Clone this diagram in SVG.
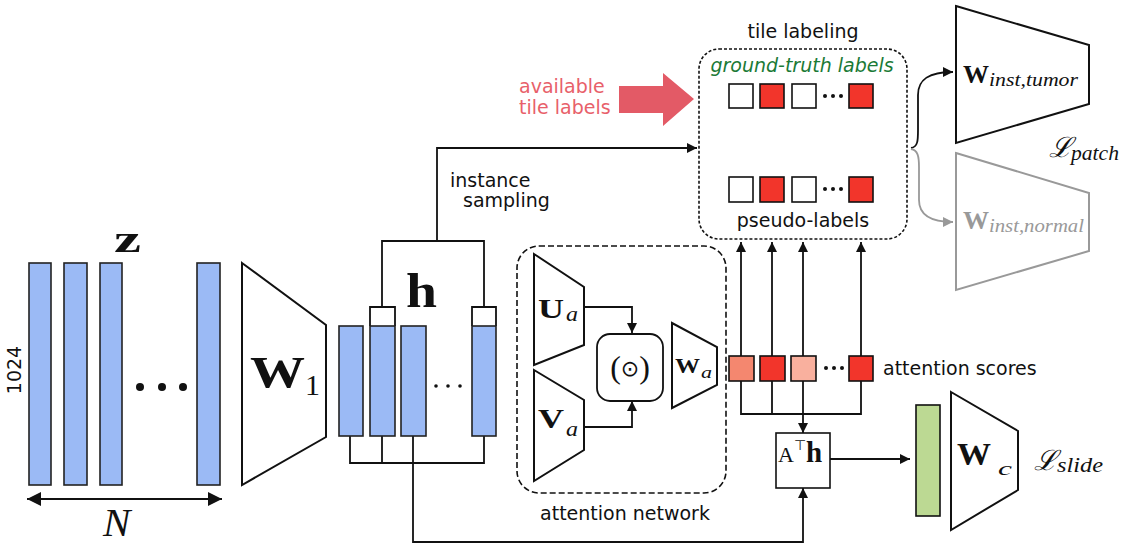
<svg xmlns="http://www.w3.org/2000/svg" width="1125" height="544" viewBox="0 0 1125 544">
<defs>
<style>
.sans{font-family:"DejaVu Sans","Liberation Sans",sans-serif;font-size:19px;fill:#111}
.ser{font-family:"Liberation Serif","DejaVu Serif",serif;fill:#111}
.bold{font-weight:bold}
.it{font-style:italic}
.bar{fill:#9bbaf5;stroke:#222;stroke-width:1.6}
.trap{fill:#fff;stroke:#111;stroke-width:2}
.ln{fill:none;stroke:#111;stroke-width:1.8}
.sq{stroke:#111;stroke-width:1.6}
.red{fill:#f2352b}
.wh{fill:#fff}
</style>
<marker id="ah" viewBox="0 0 10 10" refX="10" refY="5" markerWidth="10" markerHeight="10" markerUnits="userSpaceOnUse" orient="auto">
<path d="M0,0 L10,5 L0,10 z" fill="#111"/>
</marker>
<marker id="ahg" viewBox="0 0 10 10" refX="10" refY="5" markerWidth="10" markerHeight="10" markerUnits="userSpaceOnUse" orient="auto">
<path d="M0,0 L10,5 L0,10 z" fill="#999"/>
</marker>
<marker id="ahs" viewBox="0 0 10 10" refX="10" refY="5" markerWidth="16" markerHeight="14" markerUnits="userSpaceOnUse" orient="auto-start-reverse">
<path d="M0,0 L10,5 L0,10 z" fill="#111"/>
</marker>
</defs>
<rect width="1125" height="544" fill="#fff"/>

<g id="connectors">
<line class="ln" x1="27" y1="499" x2="222" y2="499" marker-start="url(#ahs)" marker-end="url(#ahs)" style="stroke-width:2"/>
<path class="ln" d="M370,326 V307 H395 V326 M382,307 V241 H484 V307 M472,326 V307 H496 V326"/>
<path class="ln" d="M437,241 V148 H697" marker-end="url(#ah)"/>
<path class="ln" d="M350,436 V463 H484 V436 M382,436 V463 M413,436 V542 H803 V488" marker-end="url(#ah)"/>
<path class="ln" d="M584,307 H632 V333" marker-end="url(#ah)"/>
<path class="ln" d="M584,427 H632 V401" marker-end="url(#ah)"/>
<line class="ln" x1="741" y1="356" x2="741" y2="242" marker-end="url(#ah)"/>
<line class="ln" x1="772" y1="356" x2="772" y2="242" marker-end="url(#ah)"/>
<line class="ln" x1="803" y1="356" x2="803" y2="242" marker-end="url(#ah)"/>
<line class="ln" x1="861" y1="356" x2="861" y2="242" marker-end="url(#ah)"/>
<path class="ln" d="M741,381 V414 H861 V381 M772,381 V414"/>
<line class="ln" x1="803" y1="381" x2="803" y2="433" marker-end="url(#ah)"/>
<line class="ln" x1="830" y1="459" x2="910" y2="459" marker-end="url(#ah)"/>
<path class="ln" d="M911,148 C918,147 918,140 918,130 L918,95 C918,80 928,72 953,72" marker-end="url(#ah)"/>
<path d="M911,149 C918,150 919,157 919,167 L919,200 C919,214 929,222 953,222" fill="none" stroke="#999" stroke-width="1.8" marker-end="url(#ahg)"/>
</g>

<g id="z">
<rect class="bar" x="29" y="263" width="22" height="222"/>
<rect class="bar" x="64" y="263" width="23" height="222"/>
<rect class="bar" x="100" y="263" width="22" height="222"/>
<rect class="bar" x="197" y="263" width="23" height="222"/>
<circle cx="140" cy="387" r="4" fill="#111"/>
<circle cx="162" cy="387" r="4" fill="#111"/>
<circle cx="183" cy="387" r="4" fill="#111"/>
<text class="ser bold" x="114" y="252" font-size="38" textLength="27" lengthAdjust="spacingAndGlyphs">z</text>
<text class="sans" x="21" y="370" font-size="13" text-anchor="middle" transform="rotate(-90 21 370)">1024</text>
<text class="ser it" x="103" y="536" font-size="41">N</text>
</g>

<g id="W1">
<polygon class="trap" points="242,263 326,325 326,437 242,485"/>
<text class="ser bold" x="250" y="387" font-size="45" textLength="55" lengthAdjust="spacingAndGlyphs">W</text>
<text class="ser" x="305" y="395" font-size="30">1</text>
</g>

<g id="h">
<rect class="bar" x="339" y="326" width="24" height="110"/>
<rect class="bar" x="370" y="326" width="25" height="110"/>
<rect class="bar" x="401" y="326" width="25" height="110"/>
<rect class="bar" x="472" y="326" width="24" height="110"/>
<circle cx="436" cy="386" r="1.8" fill="#111"/>
<circle cx="448" cy="386" r="1.8" fill="#111"/>
<circle cx="460" cy="386" r="1.8" fill="#111"/>
<text class="ser bold" x="406" y="307" font-size="48" textLength="31" lengthAdjust="spacingAndGlyphs">h</text>
<text class="sans" x="450" y="187">instance</text>
<text class="sans" x="463" y="207">sampling</text>
</g>

<g id="attention-network">
<rect x="517" y="246" width="209" height="247" rx="22" fill="none" stroke="#111" stroke-width="1.6" stroke-dasharray="6,3"/>
<polygon class="trap" points="534,254 584,287 584,345 534,365"/>
<text class="ser bold" x="538" y="318" font-size="27" textLength="26" lengthAdjust="spacingAndGlyphs">U</text>
<text class="ser it" x="566" y="321" font-size="20" textLength="12" lengthAdjust="spacingAndGlyphs">a</text>
<polygon class="trap" points="534,370 584,400 584,450 534,481"/>
<text class="ser bold" x="538" y="428" font-size="27" textLength="26" lengthAdjust="spacingAndGlyphs">V</text>
<text class="ser it" x="566" y="436" font-size="20" textLength="12" lengthAdjust="spacingAndGlyphs">a</text>
<rect x="597" y="334" width="66" height="67" rx="13" fill="#fff" stroke="#111" stroke-width="1.8"/>
<text class="ser" x="630" y="378" font-size="32" text-anchor="middle">(<tspan font-family="DejaVu Sans, sans-serif" font-size="22" dy="-2">⊙</tspan><tspan dy="2">)</tspan></text>
<polygon class="trap" points="672,323 717,347 717,385 672,408"/>
<text class="ser bold" x="675" y="373" font-size="22" textLength="25" lengthAdjust="spacingAndGlyphs">W</text>
<text class="ser it" x="701" y="378" font-size="16" textLength="11" lengthAdjust="spacingAndGlyphs">a</text>
<text class="sans" x="625" y="520" text-anchor="middle">attention network</text>
</g>

<g id="attention-scores">
<rect class="sq" x="729" y="356" width="25" height="25" fill="#f4876f"/>
<rect class="sq red" x="760" y="356" width="25" height="25"/>
<rect class="sq" x="791" y="356" width="25" height="25" fill="#f9b09e"/>
<rect class="sq red" x="849" y="356" width="24" height="25"/>
<circle cx="826" cy="368" r="2" fill="#111"/>
<circle cx="834" cy="368" r="2" fill="#111"/>
<circle cx="842" cy="368" r="2" fill="#111"/>
<text class="sans" x="883" y="375">attention scores</text>
</g>

<g id="ATh">
<rect x="776" y="433" width="54" height="55" fill="#fff" stroke="#111" stroke-width="1.6"/>
<text class="ser" x="778" y="462" font-size="22">A<tspan font-family="DejaVu Sans, sans-serif" font-size="14" dy="-12">⊤</tspan><tspan class="bold" font-size="29" dy="12">h</tspan></text>
</g>

<g id="slide-classifier">
<rect x="916" y="405" width="24" height="111" fill="#bcd993" stroke="#111" stroke-width="1.6"/>
<polygon class="trap" points="951,392 1018,431 1018,490 951,530"/>
<text class="ser bold" x="957" y="465" font-size="31" textLength="34" lengthAdjust="spacingAndGlyphs">W</text>
<text class="ser it" x="998" y="475" font-size="19" textLength="14" lengthAdjust="spacingAndGlyphs">c</text>
<text class="ser it" x="1034" y="470" font-size="28">ℒ</text>
<text class="ser it" x="1057" y="472" font-size="22" textLength="46" lengthAdjust="spacingAndGlyphs">slide</text>
</g>

<g id="tile-labeling">
<text class="sans" x="803" y="38" text-anchor="middle">tile labeling</text>
<rect x="699" y="49" width="208" height="190" rx="20" fill="none" stroke="#111" stroke-width="1.6" stroke-dasharray="3,2"/>
<text class="sans it" x="802" y="72" text-anchor="middle" style="fill:#1b7a36">ground-truth labels</text>
<rect class="sq wh" x="729" y="84" width="24" height="24"/>
<rect class="sq red" x="760" y="84" width="24" height="24"/>
<rect class="sq wh" x="792" y="84" width="24" height="24"/>
<rect class="sq red" x="849" y="84" width="24" height="24"/>
<circle cx="825" cy="96" r="2" fill="#111"/>
<circle cx="833" cy="96" r="2" fill="#111"/>
<circle cx="841" cy="96" r="2" fill="#111"/>
<rect class="sq wh" x="729" y="177" width="24" height="25"/>
<rect class="sq red" x="760" y="177" width="24" height="25"/>
<rect class="sq wh" x="792" y="177" width="24" height="25"/>
<rect class="sq red" x="849" y="177" width="24" height="25"/>
<circle cx="825" cy="189" r="2" fill="#111"/>
<circle cx="833" cy="189" r="2" fill="#111"/>
<circle cx="841" cy="189" r="2" fill="#111"/>
<text class="sans" x="803" y="227" text-anchor="middle">pseudo-labels</text>
</g>

<g id="available-tile-labels">
<polygon points="619,86 663,86 663,73 694,99 663,126 663,113 619,113" fill="#e35a66"/>
<text class="sans" x="519" y="93" style="fill:#e8606a">available</text>
<text class="sans" x="519" y="114" style="fill:#e8606a">tile labels</text>
</g>

<g id="W-inst-tumor">
<polygon class="trap" points="956,6 1089,45 1089,104 956,143"/>
<text class="ser bold" x="963" y="83" font-size="26" textLength="26" lengthAdjust="spacingAndGlyphs">W</text>
<text class="ser it" x="989" y="86" font-size="19" textLength="89" lengthAdjust="spacingAndGlyphs">inst,tumor</text>
</g>

<g id="W-inst-normal">
<polygon points="956,153 1089,193 1089,251 956,290" fill="#fff" stroke="#999" stroke-width="2"/>
<text class="ser bold" x="963" y="229" font-size="26" textLength="26" lengthAdjust="spacingAndGlyphs" style="fill:#999">W</text>
<text class="ser it" x="989" y="232" font-size="19" textLength="95" lengthAdjust="spacingAndGlyphs" style="fill:#999">inst,normal</text>
</g>

<g id="L-patch">
<text class="ser it" x="1049" y="157" font-size="28">ℒ</text>
<text class="ser it" x="1071" y="160" font-size="22" textLength="48" lengthAdjust="spacingAndGlyphs">patch</text>
</g>
</svg>
